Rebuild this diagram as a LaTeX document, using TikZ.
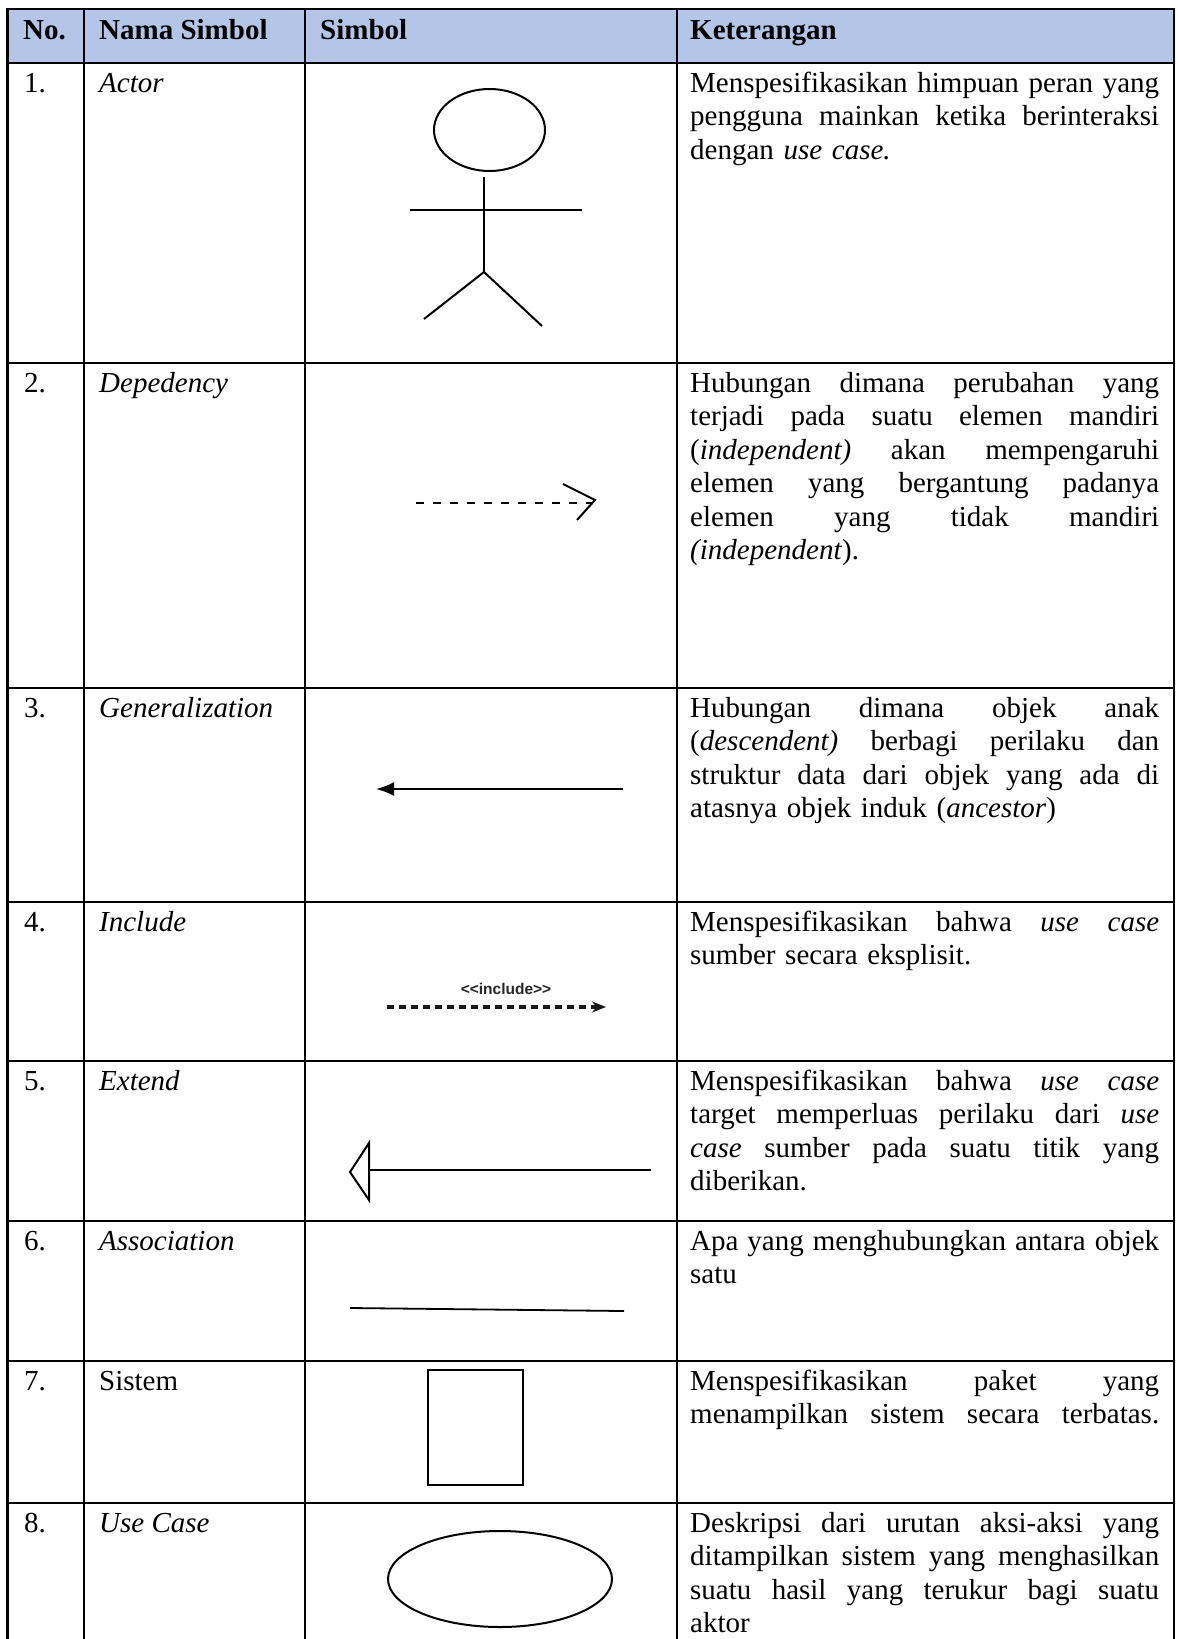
\documentclass[tikz,border=0pt]{standalone}
\usepackage{fontspec}
\setmainfont{Liberation Serif}
\newfontfamily\incfont{Liberation Sans}
\usetikzlibrary{arrows.meta}
\definecolor{hdr}{HTML}{B4C6E7}
\newcommand{\jl}[1]{\noindent\hbox to 469pt{\spaceskip=0.25em plus 1fil\relax\xspaceskip=\spaceskip #1}\par}
\newcommand{\fsz}{\fontsize{29}{33.4}\selectfont}
\begin{document}
\begin{tikzpicture}[x=1pt,y=-1pt,
  grid/.style={line width=2.6pt, line cap=rect},
  txt/.style={anchor=base west, inner sep=0pt, font=\fsz},
  head/.style={txt, font=\fsz\bfseries},
  desc/.style={txt, text width=469pt},
  sym/.style={line width=2pt},
]
\useasboundingbox (0,0) rectangle (1178,1639);
\fill[hdr] (7.5,9) rectangle (1174,63);
\foreach \y in {9,63,363,688,902,1061,1221,1361,1503} \draw[grid] (7.5,\y) -- (1174,\y);
\foreach \x in {7.5,84,305,677,1174} \draw[grid] (\x,9) -- (\x,1650);

% header
\node[head] (hno) at (23,39) {No.};
\node[head] (hnama) at (99,39) {Nama Simbol};
\node[head] (hsim) at (320,39) {Simbol};
\node[head] (hket) at (690,39) {Keterangan};

% numbers and names
\node[txt] (n1) at (24,92.5) {1.};
\node[txt] (s1) at (99,92.5) {\itshape Actor};
\node[txt] (n2) at (24,392.5) {2.};
\node[txt] (s2) at (99,392.5) {\itshape Depedency};
\node[txt] (n3) at (24,717.5) {3.};
\node[txt] (s3) at (99,717.5) {\itshape Generalization};
\node[txt] (n4) at (24,931.5) {4.};
\node[txt] (s4) at (99,931.5) {\itshape Include};
\node[txt] (n5) at (24,1090.5) {5.};
\node[txt] (s5) at (99,1090.5) {\itshape Extend};
\node[txt] (n6) at (24,1250.5) {6.};
\node[txt] (s6) at (99,1250.5) {\itshape Association};
\node[txt] (n7) at (24,1390) {7.};
\node[txt] (s7) at (99,1390) {Sistem};
\node[txt] (n8) at (24,1532.5) {8.};
\node[txt] (s8) at (99,1532.5) {\itshape Use Case};

% descriptions
\node[desc] (k1) at (690,92.5) {\jl{Menspesifikasikan himpuan peran yang}
\jl{pengguna mainkan ketika berinteraksi}
dengan \textit{use case.}};
\node[desc] (k2) at (690,392.5) {\jl{Hubungan dimana perubahan yang}
\jl{terjadi pada suatu elemen mandiri}
\jl{(\textit{independent)} akan mempengaruhi}
\jl{elemen yang bergantung padanya}
\jl{elemen yang tidak mandiri}
\textit{(independent}).};
\node[desc] (k3) at (690,717.5) {\jl{Hubungan dimana objek anak}
\jl{(\textit{descendent)} berbagi perilaku dan}
\jl{struktur data dari objek yang ada di}
atasnya objek induk (\textit{ancestor})};
\node[desc] (k4) at (690,931.5) {\jl{Menspesifikasikan bahwa \textit{use case}}
sumber secara eksplisit.};
\node[desc] (k5) at (690,1090.5) {\jl{Menspesifikasikan bahwa \textit{use case}}
\jl{target memperluas perilaku dari \textit{use}}
\jl{\textit{case} sumber pada suatu titik yang}
diberikan.};
\node[desc] (k6) at (690,1250.5) {\jl{Apa yang menghubungkan antara objek}
satu};
\node[desc] (k7) at (690,1390) {\jl{Menspesifikasikan paket yang}
\jl{menampilkan sistem secara terbatas.}};
\node[desc] (k8) at (690,1532.5) {\jl{Deskripsi dari urutan aksi-aksi yang}
\jl{ditampilkan sistem yang menghasilkan}
\jl{suatu hasil yang terukur bagi suatu}
aktor};

% 1 actor
\draw[sym] (489.5,130) ellipse [x radius=55.5pt, y radius=41pt];
\draw[sym] (484,177) -- (484,272);
\draw[sym] (410,210) -- (582,210);
\draw[sym] (424,319) -- (484,272) -- (542,326);

% 2 dependency
\coordinate (d1) at (416,503);
\coordinate (d2) at (592,503);
\draw[line width=1.6pt, dash pattern=on 8pt off 9pt] (d1) -- (d2);
\draw[sym, line join=miter] (563,484) -- (595,500) -- (577,520);

% 3 generalization
\coordinate (g1) at (623,789);
\coordinate (g2) at (376,789);
\draw[line width=2.2pt, -{Latex[length=18pt,width=14pt]}] (g1) -- (g2);

% 4 include
\node[inner sep=0pt, font=\incfont\bfseries\fontsize{15.5}{15.5}\selectfont, text=black!85] (inc) at (506,989) {<\kern0pt<include>\kern0pt>};
\coordinate (i1) at (387,1007);
\coordinate (i2) at (606,1007);
\draw[black!90, line width=3.4pt, dash pattern=on 7pt off 5pt, -{Stealth[length=14pt,width=11pt]}] (i1) -- (i2);

% 5 extend
\coordinate (e1) at (651,1170);
\coordinate (e2) at (369,1170);
\draw[sym] (e1) -- (e2);
\draw[sym, line join=miter] (350,1172) -- (369,1143) -- (369,1200) -- cycle;

% 6 association
\coordinate (a1) at (350,1308);
\coordinate (a2) at (624,1311);
\draw[line width=1.8pt] (a1) -- (a2);

% 7 sistem
\draw[sym] (428,1370) rectangle (523,1485);

% 8 use case
\draw[sym] (500,1579) ellipse [x radius=112pt, y radius=48pt];
\end{tikzpicture}
\end{document}
